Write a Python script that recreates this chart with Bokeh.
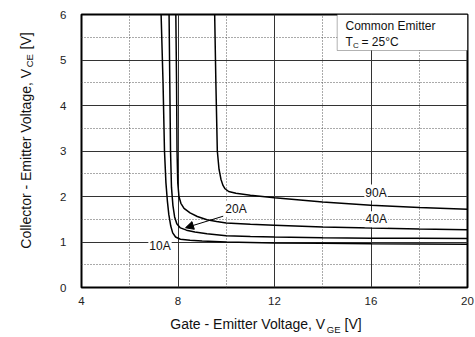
import math
from bokeh.plotting import figure
from bokeh.models import Range1d, FixedTicker, Label, BoxAnnotation, Arrow, NormalHead
from bokeh.embed import file_html
from bokeh.resources import INLINE

# ---- data ----
vge_10a = [7.30, 7.38, 7.44, 7.50, 7.56, 7.62, 7.70, 7.78, 7.90, 8.10, 8.50, 9.0, 10.0, 12.0, 14.0, 16.0, 18.0, 20.0]
vce_10a = [6.00, 4.50, 3.00, 2.30, 1.90, 1.60, 1.35, 1.20, 1.11, 1.06, 1.04, 1.02, 1.00, 0.98, 0.97, 0.96, 0.955, 0.95]

vge_20a = [7.63, 7.66, 7.69, 7.73, 7.79, 7.86, 7.95, 8.10, 8.35, 8.70, 9.20, 10.0, 11.0, 12.0, 14.0, 16.0, 18.0, 20.0]
vce_20a = [6.00, 4.50, 3.00, 2.20, 1.80, 1.55, 1.40, 1.31, 1.26, 1.22, 1.18, 1.14, 1.12, 1.11, 1.095, 1.085, 1.08, 1.075]

vge_40a = [7.91, 7.94, 7.96, 7.99, 8.04, 8.12, 8.25, 8.50, 8.80, 9.20, 9.60, 10.0, 11.0, 12.0, 14.0, 16.0, 18.0, 20.0]
vce_40a = [6.00, 4.50, 3.00, 2.30, 2.00, 1.85, 1.74, 1.64, 1.56, 1.49, 1.45, 1.42, 1.39, 1.37, 1.33, 1.305, 1.285, 1.27]

vge_90a = [9.52, 9.57, 9.63, 9.70, 9.78, 9.86, 9.95, 10.1, 10.4, 11.0, 12.0, 14.0, 16.0, 18.0, 20.0]
vce_90a = [6.00, 4.50, 3.00, 2.60, 2.38, 2.25, 2.17, 2.11, 2.07, 2.03, 1.97, 1.88, 1.81, 1.76, 1.72]

curve_names = ["10A", "20A", "40A", "90A"]
x_ticks = [4, 8, 12, 16, 20]
x_minor = [6, 10, 14, 18]
y_ticks = [0, 1, 2, 3, 4, 5, 6]
y_minor = [0.5, 1.5, 2.5, 3.5, 4.5, 5.5]

FONT = "Liberation Sans"
GAP = "\u00a0" * 5

# page-pixel -> data helpers for text placement (frame in page px)
FL, FR, FT, FB = 81.0, 467.0, 14.0, 287.0
def dx(px):
    return 4 + (px - FL) * 16.0 / (FR - FL)
def dy(py):
    return (FB - py) * 6.0 / (FB - FT)

p = figure(width=475, height=337, x_range=Range1d(4, 20), y_range=Range1d(0, 6),
           output_backend="svg", toolbar_location=None,
           min_border_left=81, min_border_right=8, min_border_top=14, min_border_bottom=50)

p.background_fill_color = "white"
p.border_fill_color = "white"
p.outline_line_color = "black"
p.outline_line_width = 2

p.xaxis.ticker = FixedTicker(ticks=x_ticks, minor_ticks=x_minor)
p.yaxis.ticker = FixedTicker(ticks=y_ticks, minor_ticks=y_minor)
for ax in (p.xaxis, p.yaxis):
    ax.axis_line_color = None
    ax.major_tick_line_color = None
    ax.minor_tick_line_color = None
    ax.major_tick_in = 0
    ax.major_tick_out = 0
    ax.minor_tick_in = 0
    ax.minor_tick_out = 0
    ax.major_label_text_font = FONT
    ax.major_label_text_font_size = "11.5px"
    ax.major_label_text_color = "#222222"
p.xaxis.major_label_standoff = 9
p.yaxis.major_label_standoff = 15

p.grid.grid_line_color = "#333333"
p.grid.grid_line_width = 1
p.grid.minor_grid_line_color = "#555555"
p.grid.minor_grid_line_dash = "1 2"
p.grid.minor_grid_line_width = 1

for xs, ys in ((vge_10a, vce_10a), (vge_20a, vce_20a), (vge_40a, vce_40a), (vge_90a, vce_90a)):
    p.line(xs, ys, line_color="black", line_width=1.5)

# curve labels
label_pos = {"10A": (159.5, 245.8), "20A": (235.5, 208.3), "40A": (375.8, 218.8), "90A": (375.5, 192.0)}
for name in curve_names:
    px, py = label_pos[name]
    p.add_layout(Label(x=dx(px), y=dy(py), text=name, text_font=FONT, text_font_size="12px",
                       text_color="#111111", text_align="center", text_baseline="middle",
                       background_fill_color="white", padding=1))

# arrow for 20A
p.add_layout(Arrow(x_start=dx(222.7), y_start=dy(215.7), x_end=dx(185.0), y_end=dy(227.3),
                   line_color="black", line_width=1,
                   end=NormalHead(size=8, fill_color="black", line_color="black")))

# legend box
p.add_layout(BoxAnnotation(left=dx(336.7), right=20, bottom=dy(50), top=6,
                           fill_color="white", fill_alpha=1.0, line_color="black", line_width=1))
p.add_layout(Label(x=dx(345), y=dy(25), text="Common Emitter", text_font=FONT, text_font_size="12px",
                   text_color="#111111", text_align="left", text_baseline="middle"))
p.add_layout(Label(x=dx(345), y=dy(41.5), text="T", text_font=FONT, text_font_size="12px",
                   text_color="#111111", text_align="left", text_baseline="middle"))
p.add_layout(Label(x=dx(352.5), y=dy(45), text="C", text_font=FONT, text_font_size="8px",
                   text_color="#111111", text_align="left", text_baseline="middle"))
p.add_layout(Label(x=dx(361), y=dy(41.5), text="= 25°C", text_font=FONT, text_font_size="12px",
                   text_color="#111111", text_align="left", text_baseline="middle"))

# x-axis title (subscript placed in the gap); side panels so the text is not clipped
p.add_layout(Label(x=dx(265.5), y=dy(323.5), text="Gate - Emitter Voltage, V" + GAP + "[V]",
                   text_font=FONT, text_font_size="14px", text_color="#111111",
                   text_align="center", text_baseline="middle"), "below")
p.add_layout(Label(x=dx(326.3), y=dy(328.5), text="GE", text_font=FONT,
                   text_font_size="9.5px", text_color="#111111", text_align="left",
                   text_baseline="middle"), "above")

# y-axis title (rotated, subscript placed in the gap)
p.add_layout(Label(x=dx(25), y=dy(140), text="Collector - Emitter Voltage, V" + GAP + "[V]",
                   text_font=FONT, text_font_size="14px", text_color="#111111",
                   text_align="center", text_baseline="alphabetic", angle=math.pi / 2), "left")
p.add_layout(Label(x=dx(28.5), y=dy(66.8), text="CE", text_font=FONT,
                   text_font_size="9.5px", text_color="#111111", text_align="left",
                   text_baseline="alphabetic", angle=math.pi / 2), "left")

open("out.html", "w").write(file_html(p, INLINE))
